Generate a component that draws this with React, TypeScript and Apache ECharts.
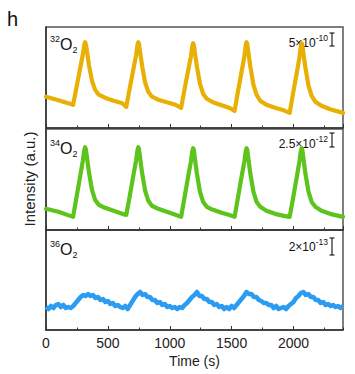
import React, { useEffect, useRef } from "react";
import * as echarts from "echarts";

// Key sample times (s) shared by the 32O2 and 34O2 traces
const TIMES_MAIN = [
  0, 100,
  219, 246, 276, 298, 309, 316, 322, 331, 346, 371, 396, 426, 476, 546, 616,
  649, 676, 706, 728, 739, 746, 752, 761, 776, 801, 826, 856, 906, 976, 1046,
  1092, 1119, 1149, 1171, 1182, 1189, 1195, 1204, 1219, 1244, 1269, 1299, 1349, 1419, 1489,
  1524, 1551, 1581, 1603, 1614, 1621, 1627, 1636, 1651, 1676, 1701, 1731, 1781, 1851, 1921,
  1969, 1996, 2026, 2048, 2059, 2066, 2072, 2081, 2096, 2121, 2146, 2176, 2226, 2296, 2400,
];

// 32O2 intensity (a.u., panel scale 0-10)
const O2_32 = [
  3.1, 2.75,
  2.3, 4.0, 5.9, 7.3, 8.2, 8.5, 8.3, 7.6, 6.3, 4.7, 3.8, 3.3, 3.0, 2.7, 2.45,
  2.1, 3.9, 5.8, 7.2, 8.2, 8.5, 8.3, 7.5, 6.2, 4.5, 3.6, 3.1, 2.8, 2.55, 2.3,
  2.0, 3.8, 5.7, 7.1, 8.1, 8.4, 8.2, 7.4, 6.1, 4.4, 3.4, 2.9, 2.55, 2.25, 1.95,
  1.7, 3.6, 5.6, 7.1, 8.2, 8.5, 8.3, 7.4, 6.1, 4.3, 3.3, 2.7, 2.3, 2.0, 1.75,
  1.5, 3.4, 5.4, 7.0, 8.1, 8.4, 8.2, 7.3, 6.0, 4.2, 3.2, 2.6, 2.2, 1.85, 1.5,
];

// 34O2 intensity (a.u., panel scale 0-10)
const O2_34 = [
  2.1, 1.8,
  1.3, 3.2, 5.3, 6.9, 7.9, 8.2, 8.0, 7.2, 5.8, 4.0, 3.0, 2.5, 2.2, 1.9, 1.6,
  1.5, 3.3, 5.4, 6.9, 7.9, 8.2, 8.0, 7.1, 5.7, 3.9, 2.9, 2.4, 2.1, 1.8, 1.5,
  1.3, 3.2, 5.3, 6.8, 7.8, 8.1, 7.9, 7.0, 5.6, 3.8, 2.8, 2.3, 2.0, 1.7, 1.45,
  1.3, 3.2, 5.3, 6.8, 7.8, 8.1, 7.9, 7.0, 5.6, 3.8, 2.8, 2.3, 1.9, 1.6, 1.4,
  1.3, 3.1, 5.2, 6.8, 7.8, 8.1, 7.9, 7.0, 5.6, 3.8, 2.8, 2.3, 1.9, 1.6, 1.3,
];

// 36O2 sampled every 20 s from 0 to 2400 s (a.u., panel scale 0-10)
const O2_36_STEP = 20;
const O2_36 = [
  2.3, 2.1, 2.4, 2.2, 2.5, 2.6, 2.3, 2.5, 2.2, 2.3,
  2.2, 2.4, 2.7, 3.0, 3.3, 3.5, 3.4, 3.6, 3.4, 3.5,
  3.2, 3.3, 3.0, 3.1, 2.8, 2.9, 2.6, 2.7, 2.4, 2.5,
  2.3, 2.2, 2.4, 2.1, 2.5, 2.9, 3.3, 3.6, 3.8, 3.5,
  3.6, 3.3, 3.3, 3.0, 3.0, 2.7, 2.8, 2.5, 2.6, 2.3,
  2.4, 2.2, 2.3, 2.1, 2.3, 2.2, 2.5, 2.7, 3.0, 3.3,
  3.5, 3.8, 3.4, 3.4, 3.1, 3.1, 2.8, 2.8, 2.5, 2.6,
  2.3, 2.4, 2.1, 2.3, 2.1, 2.4, 2.2, 2.5, 2.8, 3.1,
  3.4, 3.8, 3.6, 3.6, 3.3, 3.3, 3.0, 2.9, 2.7, 2.7,
  2.5, 2.5, 2.2, 2.4, 2.1, 2.2, 2.3, 2.1, 2.4, 2.6,
  2.8, 3.2, 3.4, 3.7, 3.8, 3.5, 3.6, 3.3, 3.3, 3.0,
  3.0, 2.7, 2.8, 2.5, 2.6, 2.4, 2.5, 2.3, 2.4, 2.2,
  2.4,
];

const X_TICKS = [0, 500, 1000, 1500, 2000];
const PANEL_NAMES = ["32", "34", "36"];
const SCALE_MANTISSA = ["5×10", "2.5×10", "2×10"];
const SCALE_EXP = ["-10", "-12", "-13"];

const COLORS = ["#E8B004", "#5CC41C", "#2B9CF2"];
const FONT = "Liberation Sans, Arial, sans-serif";

export default function App() {
  const ref = useRef<HTMLDivElement>(null);

  useEffect(() => {
    if (!ref.current) return;
    const chart = echarts.init(ref.current, undefined, { renderer: "svg" });

    const left = 46;
    const width = 297;
    const tops = [27, 129, 230];
    const heights = [101, 101, 100];

    const grids = tops.map((t, i) => ({
      left,
      top: t,
      width,
      height: heights[i],
      show: true,
      borderColor: "#555",
      borderWidth: 1.5,
      backgroundColor: "transparent",
    }));

    const xAxes: any[] = [];
    const yAxes: any[] = [];
    tops.forEach((_, i) => {
      xAxes.push({
        type: "value",
        gridIndex: i,
        position: "bottom",
        min: 0,
        max: 2400,
        interval: 500,
        axisLine: { show: true, lineStyle: { color: "#333", width: 1.5 } },
        axisTick: { show: true, inside: true, length: 4, lineStyle: { color: "#333", width: 1 } },
        axisLabel: {
          show: i === 2,
          fontSize: 14,
          color: "#222",
          fontFamily: FONT,
          margin: 6,
          showMaxLabel: false,
          formatter: (v: number) => (X_TICKS.includes(v) ? String(v) : ""),
        },
        splitLine: { show: false },
        name: i === 2 ? "Time (s)" : "",
        nameLocation: "middle",
        nameGap: 24,
        nameTextStyle: { fontSize: 14, color: "#222", fontFamily: FONT },
      });
      xAxes.push({
        type: "value",
        gridIndex: i,
        position: "bottom",
        min: 0,
        max: 2400,
        interval: 250,
        axisLine: { show: false },
        axisTick: { show: true, inside: true, length: 2.5, lineStyle: { color: "#333", width: 1 } },
        axisLabel: { show: false },
        splitLine: { show: false },
      });
      yAxes.push({
        type: "value",
        gridIndex: i,
        min: 0,
        max: 10,
        axisLine: { show: true, lineStyle: { color: "#333", width: 1.5 } },
        axisTick: { show: false },
        axisLabel: { show: false },
        splitLine: { show: false },
      });
    });

    const mainData32 = TIMES_MAIN.map((t, i) => [t, O2_32[i]]);
    const mainData34 = TIMES_MAIN.map((t, i) => [t, O2_34[i]]);
    const data36 = O2_36.map((v, i) => [i * O2_36_STEP, v]);

    const series: any[] = [
      {
        type: "line",
        xAxisIndex: 0,
        yAxisIndex: 0,
        data: mainData32,
        showSymbol: false,
        smooth: false,
        lineStyle: { color: COLORS[0], width: 4.2, join: "round", cap: "round" },
      },
      {
        type: "line",
        xAxisIndex: 2,
        yAxisIndex: 1,
        data: mainData34,
        showSymbol: false,
        smooth: false,
        lineStyle: { color: COLORS[1], width: 4.2, join: "round", cap: "round" },
      },
      {
        type: "line",
        xAxisIndex: 4,
        yAxisIndex: 2,
        data: data36,
        showSymbol: false,
        smooth: false,
        lineStyle: { color: COLORS[2], width: 4.5, join: "round" },
      },
    ];

    const graphics: any[] = [
      {
        type: "text",
        x: 7,
        y: 9,
        style: { text: "h", font: `20px ${FONT}`, fill: "#111" },
      },
      {
        type: "text",
        x: 29,
        y: 179,
        rotation: Math.PI / 2,
        style: {
          text: "Intensity (a.u.)",
          font: `15px ${FONT}`,
          fill: "#222",
          align: "center",
          verticalAlign: "middle",
        },
      },
    ];

    const labelCenters = [44, 148, 249];
    const scaleCenters = [41, 142, 245];
    const barRanges = [
      [33, 46],
      [133, 147],
      [238, 255],
    ];

    PANEL_NAMES.forEach((n, i) => {
      graphics.push({
        type: "text",
        x: 50,
        y: labelCenters[i],
        style: {
          text: `{sup|${n}}{o|O}{sub|2}`,
          align: "left",
          verticalAlign: "middle",
          fill: "#111",
          rich: {
            sup: { fontSize: 9, fontFamily: FONT, fill: "#111", lineHeight: 9, verticalAlign: "top" },
            o: { fontSize: 16, fontFamily: FONT, fill: "#111", lineHeight: 20 },
            sub: { fontSize: 9, fontFamily: FONT, fill: "#111", lineHeight: 9, verticalAlign: "bottom" },
          },
        },
      });
      graphics.push({
        type: "text",
        x: 328,
        y: scaleCenters[i],
        style: {
          text: `{n|${SCALE_MANTISSA[i]}}{s|${SCALE_EXP[i]}}`,
          align: "right",
          verticalAlign: "middle",
          fill: "#111",
          rich: {
            n: { fontSize: 12, fontFamily: FONT, fill: "#111", lineHeight: 15, verticalAlign: "bottom" },
            s: { fontSize: 8.5, fontFamily: FONT, fill: "#111", lineHeight: 9, verticalAlign: "top" },
          },
        },
      });
      const [y1, y2] = barRanges[i];
      const bx = 332;
      const lineStyle = { stroke: "#222", lineWidth: 1.2 };
      graphics.push({ type: "line", shape: { x1: bx, y1, x2: bx, y2 }, style: lineStyle });
      graphics.push({ type: "line", shape: { x1: bx - 2.5, y1, x2: bx + 2.5, y2: y1 }, style: lineStyle });
      graphics.push({ type: "line", shape: { x1: bx - 2.5, y1: y2, x2: bx + 2.5, y2 }, style: lineStyle });
    });

    chart.setOption({
      animation: false,
      backgroundColor: "#fff",
      grid: grids,
      xAxis: xAxes,
      yAxis: yAxes,
      series,
      graphic: graphics,
    });

    return () => chart.dispose();
  }, []);

  return (
    <div
      ref={ref}
      style={{ position: "absolute", left: 0, top: 0, width: 355, height: 374 }}
    />
  );
}
